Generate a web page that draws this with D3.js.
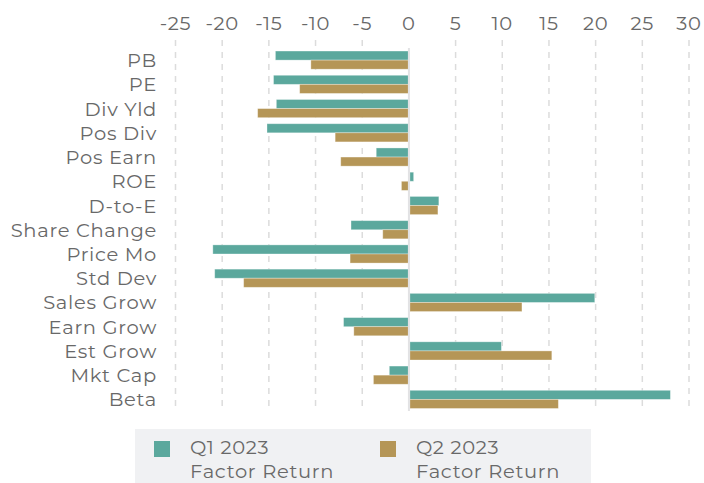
<!DOCTYPE html>
<html>
<head>
<meta charset="utf-8">
<script src="https://cdn.jsdelivr.net/npm/d3@7"></script>
<style>
  body { margin: 0; background: #fff; }
  svg text { font-family: "Montserrat", "Lato", "Noto Sans", sans-serif; fill: #686868; letter-spacing: 0.7px; }
</style>
</head>
<body>
<svg id="chart" width="704" height="483"></svg>
<script>
const factors = ['PB', 'PE', 'Div Yld', 'Pos Div', 'Pos Earn', 'ROE', 'D-to-E', 'Share Change',
  'Price Mo', 'Std Dev', 'Sales Grow', 'Earn Grow', 'Est Grow', 'Mkt Cap', 'Beta'];
const q1 = [-14.3, -14.5, -14.2, -15.2, -3.5, 0.4, 3.1, -6.2, -21.0, -20.8, 19.8, -7.0, 9.8, -2.1, 27.9];
const q2 = [-10.5, -11.7, -16.2, -7.9, -7.3, -0.8, 3.0, -2.8, -6.3, -17.7, 12.0, -5.9, 15.2, -3.8, 15.9];
const ticks = [-25, -20, -15, -10, -5, 0, 5, 10, 15, 20, 25, 30];
const seriesNames = [['Q1 2023', 'Factor Return'], ['Q2 2023', 'Factor Return']];
const colors = ['#5ba89d', '#b59657'];

const svg = d3.select('#chart');

const x = d3.scaleLinear().domain([-25, 30]).range([175.5, 689]);
const y = d3.scaleBand().domain(factors).range([48, 411.5]).paddingInner(0.25).paddingOuter(0.125);
const sub = d3.scaleBand().domain([0, 1]).range([0, y.bandwidth()]);

// dashed grid lines
svg.append('g').selectAll('line')
  .data(ticks.filter(d => d !== 0))
  .join('line')
  .attr('x1', d => x(d)).attr('x2', d => x(d))
  .attr('y1', 40).attr('y2', 411)
  .attr('stroke', '#dcdcdc').attr('stroke-width', 1.5)
  .attr('stroke-dasharray', '6,6');

// top tick labels
svg.append('g').selectAll('text')
  .data(ticks)
  .join('text')
  .attr('x', d => x(d)).attr('y', 30)
  .attr('text-anchor', 'middle')
  .attr('font-size', 19.5)
  .text(d => d);

// bars
const rows = factors.map((f, i) => ({ f, vals: [q1[i], q2[i]] }));
const g = svg.append('g').selectAll('g').data(rows).join('g')
  .attr('transform', d => `translate(0,${y(d.f)})`);
g.selectAll('rect')
  .data(d => d.vals.map((v, k) => ({ v, k })))
  .join('rect')
  .attr('x', d => x(Math.min(0, d.v)) + (d.v > 0 ? 1 : 0))
  .attr('y', d => sub(d.k))
  .attr('width', d => Math.abs(x(d.v) - x(0)))
  .attr('height', sub.bandwidth())
  .attr('fill', d => colors[d.k])
  .attr('stroke', '#fff').attr('stroke-opacity', 0.4).attr('stroke-width', 0.8);

// zero line
svg.append('line')
  .attr('x1', x(0)).attr('x2', x(0))
  .attr('y1', 48).attr('y2', 411)
  .attr('stroke', '#e2e2e4').attr('stroke-width', 2);

// category labels
svg.append('g').selectAll('text')
  .data(factors)
  .join('text')
  .attr('x', 157).attr('y', d => y(d) + y.bandwidth() / 2 + 7)
  .attr('text-anchor', 'end')
  .attr('font-size', 19.5)
  .text(d => d);

// legend
const leg = svg.append('g');
leg.append('rect').attr('x', 135).attr('y', 429).attr('width', 456).attr('height', 54).attr('fill', '#f0f1f3');
const items = leg.selectAll('g').data(seriesNames).join('g')
  .attr('transform', (d, i) => `translate(${154 + i * 226},441)`);
items.append('rect').attr('width', 16).attr('height', 16).attr('fill', (d, i) => colors[i]);
items.append('text').attr('x', 36).attr('y', 13).attr('font-size', 19.5).text(d => d[0]);
items.append('text').attr('x', 36).attr('y', 37).attr('font-size', 19.5).text(d => d[1]);
</script>
</body>
</html>
